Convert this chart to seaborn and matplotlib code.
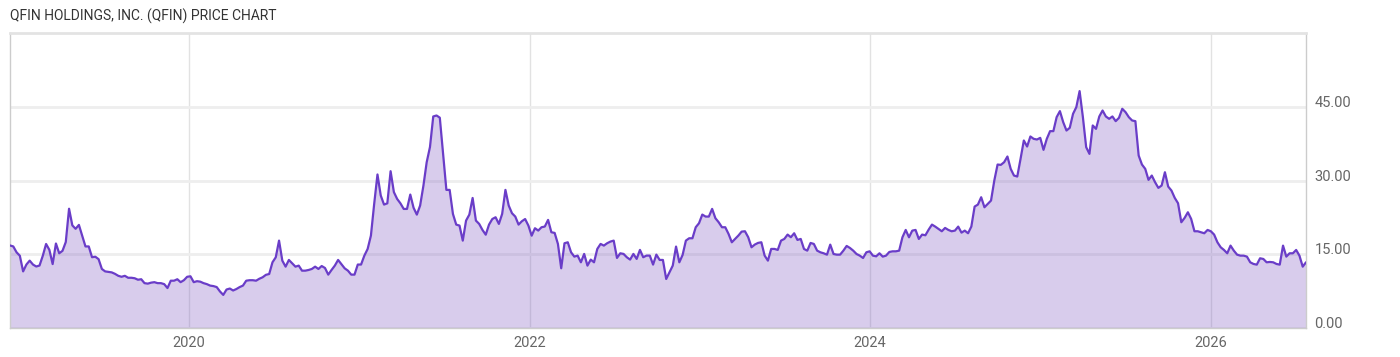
import numpy as np
import pandas as pd
import matplotlib
matplotlib.use("Agg")
import matplotlib.pyplot as plt
import matplotlib.dates as mdates
import seaborn as sns

# ---- data (weekly closes) ----
start_date = "2018-12-13"
end_date = "2026-07-24"

seg_2019_2020 = [16.8, 16.6, 15.4, 14.7, 11.5, 12.9, 13.7, 12.9, 12.5, 12.7, 14.7, 17.1, 15.9, 13.0,
                 17.2, 15.2, 15.7, 17.5, 24.3, 20.9, 20.2, 21.0, 18.8, 16.6, 16.6, 14.4, 14.5, 14.0,
                 12.0, 11.5, 11.4, 11.3, 11.0, 10.6, 10.4, 10.6, 10.2, 10.2, 10.1, 9.8, 9.9, 9.1, 9.0,
                 9.2, 9.3, 9.1, 9.1, 8.9, 8.1, 9.6, 9.6, 9.9, 9.3, 9.7, 10.4, 10.5, 9.3, 9.5, 9.4,
                 9.1, 8.9, 8.6, 8.5, 8.3, 7.4, 6.7, 7.8, 8.0, 7.6, 7.9, 8.3, 8.6, 9.6, 9.7, 9.7,
                 9.6, 10.0, 10.3, 10.8]
seg_2020_2022 = [10.97, 13.36, 14.38, 17.79, 13.70, 12.47, 13.84, 13.15, 12.47, 12.68, 11.65, 11.65,
                 11.79, 12.0, 12.47, 12.0, 12.6, 12.2, 10.84, 11.79, 12.68, 13.84, 13.0, 12.13, 11.65,
                 10.84, 10.84, 12.9, 12.9, 14.72, 16.08, 18.8, 25.3, 31.3, 27.0, 25.15, 25.4, 31.97,
                 27.7, 26.3, 25.4, 24.26, 24.26, 27.2, 24.5, 23.1, 24.95, 29.0, 33.8, 36.9, 43.15,
                 43.35, 42.9, 35.5, 28.15, 28.15, 23.24, 21.06, 20.86, 17.79, 21.88, 23.1, 26.5,
                 21.88, 21.2, 19.97, 19.0, 21.06, 22.2, 22.56, 21.2, 23.24, 28.15, 24.95, 23.38,
                 22.7, 21.06, 21.74, 22.2, 20.86, 18.8]
seg_2022_2023 = [20.32, 19.84, 20.52, 20.66, 22.02, 19.5, 19.36, 17.11, 12.14, 17.25, 17.45, 15.41,
                 14.52, 14.73, 13.36, 15.07, 12.68, 13.91, 13.36, 16.09, 17.11, 16.77, 17.25, 17.59,
                 17.79, 14.25, 15.2, 15.07, 14.39, 13.91, 15.07, 14.05, 15.89, 14.39, 14.73, 14.73,
                 12.89, 14.93, 13.84, 13.84, 9.95, 11.32, 12.68, 16.57, 13.36, 14.86, 17.79, 18.27,
                 18.27, 20.52, 21.34, 23.11, 22.7, 22.7, 24.27, 22.36, 21.54, 20.52, 20.52, 19.16,
                 17.45, 18.13, 18.82, 19.63, 19.7, 18.48, 16.43, 16.98, 17.32, 17.45, 14.73, 13.7,
                 16.09, 16.09, 15.89, 17.79, 18.13, 19.02, 18.48, 19.29]
seg_2023_2025 = [17.93, 18.13, 16.08, 15.74, 17.31, 17.11, 15.74, 15.4, 15.2, 14.92, 16.97, 15.06,
                 14.92, 14.92, 15.74, 16.7, 16.29, 15.74, 15.06, 14.72, 14.24, 15.4, 15.6, 14.72,
                 14.58, 15.2, 14.52, 14.72, 15.47, 15.6, 15.6, 15.74, 18.47, 19.97, 18.47, 19.83,
                 19.97, 18.13, 19.02, 18.88, 20.04, 21.06, 20.65, 20.17, 19.7, 20.38, 19.97, 19.7,
                 19.83, 20.65, 19.42, 19.83, 19.29, 20.65, 24.74, 25.15, 26.65, 24.6, 25.29, 25.97,
                 30.06, 33.33, 33.26, 33.81, 34.97, 32.44, 31.08, 30.88, 34.49, 38.24, 37.01, 39.06,
                 38.58, 38.44, 38.78, 36.33, 38.58, 40.15, 40.15, 43.01, 44.24]
seg_2025_2026 = [41.99, 40.28, 40.83, 43.69, 45.06, 48.33, 43.01, 36.88, 35.51, 41.31, 40.62, 43.15,
                 44.37, 43.15, 42.67, 43.15, 42.19, 42.87, 44.72, 44.03, 43.01, 42.33, 42.19, 35.17,
                 33.33, 32.45, 30.2, 31.08, 29.72, 28.56, 29.04, 31.76, 28.83, 28.01, 26.51, 25.42,
                 21.54, 22.42, 23.58, 22.22, 19.7, 19.7, 19.49, 19.29, 19.97, 19.7, 19.02, 17.45,
                 16.43, 15.88, 15.2, 16.77, 15.74, 14.92, 14.72, 14.72, 14.52, 13.36, 13.02, 12.88,
                 14.18, 14.04, 13.36, 13.43, 13.36, 13.02, 12.88, 16.77, 14.52, 15.2, 15.2, 15.88,
                 14.72, 12.47, 13.36]

year_ticks = ["2020-01-01", "2022-01-01", "2024-01-01", "2026-01-01"]
price_ticks = [0, 15, 30, 45]
price_labels = ["0.00", "15.00", "30.00", "45.00"]
title = "QFIN HOLDINGS, INC. (QFIN) PRICE CHART"

prices = seg_2019_2020 + seg_2020_2022 + seg_2022_2023 + seg_2023_2025 + seg_2025_2026
dates = pd.date_range(start_date, end_date, periods=len(prices))
df = pd.DataFrame({"date": dates, "price": prices})

# ---- style ----
sns.set_style("white")
plt.rcParams["font.family"] = ["Roboto", "DejaVu Sans"]

W, H = 1400, 357
fig = plt.figure(figsize=(W / 100, H / 100), dpi=100)
ax = fig.add_axes([10 / W, 1 - 327.7 / H, (1306 - 10) / W, (327.7 - 33) / H])

line_color = "#6a3dc8"
fill_color = "#7e57c2"

ax.fill_between(df["date"], df["price"], 0, color=fill_color, alpha=0.3, linewidth=0, zorder=2)
sns.lineplot(data=df, x="date", y="price", ax=ax, color=line_color, linewidth=1.6, zorder=3)

ax.set_xlim(pd.Timestamp(start_date), pd.Timestamp(end_date))
ax.set_ylim(0, 60.2)

# grid
ax.set_axisbelow(True)
ax.set_yticks(price_ticks)
ax.set_yticklabels(price_labels)
ax.set_xticks([pd.Timestamp(t) for t in year_ticks])
ax.xaxis.set_major_formatter(mdates.DateFormatter("%Y"))
ax.yaxis.grid(True, color="#eeeeee", linewidth=2, zorder=1)
ax.xaxis.grid(True, color="#e2e2e2", linewidth=1, zorder=1)

ax.yaxis.tick_right()
ax.tick_params(axis="y", length=0, pad=6, labelsize=10.5, labelcolor="#666666")
ax.tick_params(axis="x", length=0, pad=6, labelsize=10.5, labelcolor="#666666")
for lbl in ax.get_yticklabels():
    lbl.set_va("baseline")

for s in ax.spines.values():
    s.set_color("#cccccc")
    s.set_linewidth(1)
ax.spines["top"].set_color("#e3e3e3")
ax.spines["top"].set_linewidth(2)

ax.set_xlabel("")
ax.set_ylabel("")

fig.text(10 / W, 1 - 16.5 / H, title, ha="left", va="center", fontsize=10, color="#333333")

fig.savefig("out.png", dpi=100)
